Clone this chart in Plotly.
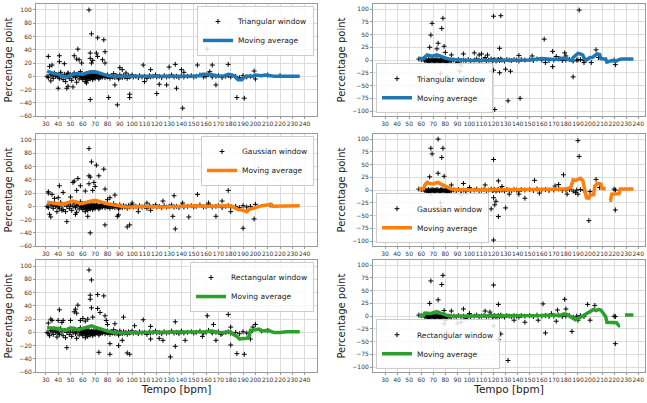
import plotly.graph_objects as go

# ---------------- data ----------------
x_ticks = list(range(30, 250, 10))
y_ticks_left = list(range(-60, 101, 20))
y_ticks_right = [-100, -75, -50, -25, 0, 25, 50, 75, 100]

window_names = ["Triangular window", "Gaussian window", "Rectangular window"]
ma_colors = ["#1f77b4", "#ff7f0e", "#2ca02c"]

# dense near-zero points (left column: all songs)
cluster_left = [(31,0),(32,-2),(34,3),(35,1),(36,-3),(37,5),(38,0),(39,2),(40,-1),(41,-3),(42,6),(43,1),(44,-5),(45,3),(46,-8),(47,0),(48,4),(49,-3),(50,2),(51,-6),(52,0),(53,5),(54,-2),(55,1),(55,-9),(56,3),(57,-4),(58,0),(58,7),(59,-2),(59,2),(60,-5),(60,0),(61,3),(61,-1),(62,-8),(62,1),(62,-3),(63,0),(63,4),(63,-2),(64,-1),(64,2),(64,-6),(65,0),(65,-3),(65,3),(66,1),(66,-1),(66,-4),(67,0),(67,2),(67,-2),(68,1),(68,-1),(68,-5),(69,0),(69,3),(69,-2),(70,1),(70,-1),(70,-3),(71,0),(71,2),(72,-1),(72,1),(73,0),(73,-4),(74,1),(74,-2),(75,0),(75,3),(76,-1),(77,1),(78,-2),(79,0),(80,-1),(80,2),(81,0),(82,-3),(83,1),(84,-1),(85,0),(85,4),(86,-2),(87,1),(88,0),(89,-4),(90,-1),(90,2),(91,0),(92,-2),(93,1),(94,-1),(95,0),(96,-3),(97,1),(98,-1),(99,0),(100,2),(101,-1),(103,0),(105,-2),(106,1),(108,-1),(110,0),(112,-3),(114,1),(115,-1),(117,0),(119,2),(120,-1),(122,0),(124,-2),(126,1),(128,-1),(130,0),(132,2),(134,-1),(136,0),(138,-2),(140,1),(142,-1),(145,0),(148,1),(150,-1),(152,0),(155,2),(158,-1),(160,0),(162,3),(165,-1),(168,0),(170,1),(173,-2),(176,0),(178,1),(180,-1),(184,0),(187,-2),(190,1),(193,-1),(196,0)]

# dense near-zero points (right column)
cluster_right = [(58,2),(60,1),(62,3),(63,-2),(64,0),(65,-1),(65,-3),(66,-2),(66,1),(67,-1),(67,-3),(68,0),(68,-2),(69,-1),(69,1),(70,-2),(70,0),(71,-1),(71,-3),(72,0),(72,-2),(73,-1),(73,1),(74,-2),(74,0),(75,-1),(75,-3),(76,0),(76,-2),(77,-1),(77,1),(78,-2),(78,0),(79,-1),(80,0),(80,-3),(81,-1),(82,-2),(83,0),(84,-1),(85,-2),(87,0),(89,-1),(91,1),(93,-1),(95,0),(97,-2),(99,1),(101,-1),(104,0),(106,2),(108,-1),(110,0),(112,1),(114,-1),(116,0),(118,2),(119,-1),(120,0),(121,1),(122,-2),(123,0),(124,1),(125,-1),(126,2),(127,0),(129,-2),(131,1),(133,0),(135,-1),(137,1),(139,0),(141,-2),(143,1),(146,0),(150,1),(153,-1),(156,2),(160,0),(163,1),(166,-1),(170,0),(174,2),(177,-1),(180,0),(183,1),(186,-2),(189,0),(192,1),(195,-1)]

# outliers per panel
tri_left_pts = [(32,30),(33,15),(34,-7),(35,17),(41,31),(41,22),(40,-18),(45,19),(47,-18),(48,-15),(48,5),(53,31),(52,-16),(56,41),(55,26),(57,25),(59,20),(63,-10),(65,100),(67,64),(66,35),(66,27),(68,24),(67,20),(66,-35),(72,58),(71,35),(72,30),(77,55),(78,37),(76,25),(78,20),(81,-32),(88,-43),(86,-13),(90,13),(98,-27),(98,-32),(92,10),(95,5),(109,17),(110,-8),(115,10),(120,-26),(122,-12),(128,-13),(130,14),(135,18),(136,-18),(140,10),(142,6),(141,-48),(153,17),(161,41),(163,7),(165,17),(168,-13),(178,18),(185,-32),(191,-33),(199,8),(200,-4),(210,2),(220,1)]
gau_left_pts = [(32,22),(32,20),(33,-12),(34,-16),(35,18),(37,12),(41,31),(40,13),(44,21),(39,-8),(43,-6),(47,-23),(50,14),(52,36),(53,38),(56,42),(55,24),(58,31),(54,-12),(62,23),(65,34),(65,87),(67,67),(65,46),(66,44),(64,-15),(66,-40),(71,62),(73,46),(70,30),(69,36),(68,24),(77,56),(78,26),(78,-28),(80,10),(82,13),(86,17),(88,-15),(89,-13),(96,-31),(98,-28),(100,5),(105,-8),(112,5),(115,-6),(125,8),(133,-15),(134,16),(135,-34),(141,5),(146,-16),(153,18),(162,5),(168,-15),(173,8),(178,24),(180,-8),(190,-33),(199,-19),(200,3),(212,2)]
rec_left_pts = [(32,14),(33,-5),(34,20),(35,18),(36,5),(41,34),(40,18),(43,15),(44,18),(39,-7),(47,-23),(50,18),(53,31),(54,35),(56,41),(55,29),(58,18),(60,21),(62,17),(64,20),(65,94),(67,79),(66,50),(67,37),(66,56),(68,23),(72,57),(72,36),(74,30),(77,55),(73,-30),(78,25),(79,18),(80,12),(82,-17),(82,-33),(86,13),(89,-20),(93,23),(92,-12),(96,-31),(98,-33),(102,10),(109,19),(115,9),(115,-10),(122,-9),(125,-12),(131,-37),(135,16),(135,-21),(140,2),(143,-12),(157,-6),(161,25),(166,12),(168,-12),(172,-3),(178,27),(180,-19),(180,8),(185,-32),(191,-33),(198,8),(200,12),(196,-10),(205,2),(210,3)]
tri_right_pts = [(67,25),(68,49),(69,72),(73,22),(74,33),(77,62),(78,82),(79,27),(80,15),(76,-27),(82,-33),(81,-5),(85,10),(90,-5),(93,-10),(95,12),(92,-22),(104,14),(108,10),(110,12),(113,5),(115,10),(118,-22),(120,-20),(120,86),(126,87),(125,23),(125,-25),(121,-97),(130,-18),(132,-80),(134,-22),(141,9),(142,-75),(152,8),(162,41),(163,-5),(169,17),(169,-13),(172,7),(175,3),(179,14),(180,8),(186,-33),(191,98),(190,0),(195,-5),(201,-5),(205,20),(207,5),(221,-9),(220,0)]
gau_right_pts = [(67,26),(68,82),(69,71),(66,-5),(68,-7),(74,100),(74,33),(77,64),(78,82),(79,27),(76,-25),(82,-5),(85,10),(93,-8),(95,13),(97,-7),(100,5),(113,10),(118,-37),(120,60),(120,-15),(121,-29),(122,-22),(120,-98),(124,-52),(124,18),(127,7),(130,-35),(133,-8),(141,-8),(146,-16),(154,19),(158,-6),(171,8),(174,11),(178,30),(181,-8),(190,97),(191,66),(188,-5),(190,-8),(199,-60),(200,-3),(205,21),(208,5),(221,-39),(221,0),(220,2)]
rec_right_pts = [(67,25),(68,69),(74,32),(77,62),(78,80),(79,11),(79,-15),(80,-8),(81,-33),(85,10),(90,-14),(93,-12),(95,14),(97,-5),(100,5),(113,10),(117,8),(120,61),(120,-19),(124,-46),(124,23),(126,-35),(132,-87),(137,-8),(146,-12),(157,-8),(161,24),(163,-33),(168,5),(173,12),(172,-10),(179,33),(180,14),(185,-30),(190,-8),(198,23),(200,-8),(204,21),(221,-54),(220,0),(221,-1)]

# moving averages (None = gap)
tri_left_ma = [(31,8),(35,5),(40,3),(45,0),(47,-2),(50,2),(55,4),(60,3),(63,5),(66,7),(70,7),(73,5),(78,2),(80,1),(85,0),(90,0),(95,-1),(100,0),(120,0),(150,0),(155,1),(157,3),(163,3),(165,2),(170,0),(175,1),(178,3),(181,2),(183,0),(186,-5),(189,-5),(190,-3),(192,0),(198,0),(200,2),(205,1),(208,2),(212,1),(215,0),(236,0)]
gau_left_ma = [(31,6),(35,5),(40,4),(44,3),(48,6),(52,8),(56,6),(58,4),(61,5),(64,7),(67,8),(70,9),(73,7),(76,6),(80,4),(85,2),(90,0),(95,-1),(100,-1),(105,0),(125,-1),(145,0),(150,1),(160,0),(170,1),(180,1),(183,-2),(186,-5),(190,-6),(193,-8),(195,-5),(198,-4),(200,-2),(205,1),(210,2),(213,3),(214,0),(220,0),(225,1),(236,1)]
rec_left_ma = [(31,7),(35,7),(40,6),(43,4),(46,3),(48,5),(50,7),(53,6),(56,4),(58,5),(61,7),(64,9),(67,10),(70,8),(73,6),(76,4),(80,2),(85,0),(90,-1),(95,-1),(100,0),(150,0),(160,1),(165,2),(170,0),(175,0),(180,1),(182,-3),(185,-6),(187,-10),(190,-9),(193,-9),(195,-6),(196,3),(200,4),(203,5),(205,2),(208,2),(211,3),(213,1),(215,0),(220,0),(225,1),(236,1)]
tri_right_ma = [(58,3),(62,3),(63,6),(65,10),(68,8),(70,8),(73,10),(75,8),(78,6),(80,4),(83,2),(85,1),(90,0),(95,0),(100,-1),(150,0),(155,1),(160,3),(165,2),(170,1),(175,2),(178,4),(180,3),(182,1),(185,-1),(186,5),(188,10),(190,13),(192,12),(194,10),(195,4),(197,0),(200,5),(202,5),(204,9),(206,12),(208,11),(209,3),(211,2),(213,2),(214,-4),(216,-3),(218,-1),(220,-2),(222,-2),(224,1),(226,2),(236,2)]
gau_right_ma = [(58,2),(62,3),(63,10),(65,15),(67,13),(70,12),(72,14),(74,15),(76,12),(78,10),(80,8),(83,4),(85,2),(90,1),(100,0),(150,1),(180,2),(184,5),(186,20),(188,19),(190,22),(192,23),(194,19),(195,5),(197,-15),(199,-16),(200,-10),(203,-9),(204,8),(206,13),(209,12),(210,3),(213,3),(214,None),(216,-20),(217,-20),(218,-8),(224,-7),(225,2),(236,2)]
rec_right_ma = [(58,1),(62,1),(63,6),(66,5),(68,5),(70,7),(73,9),(75,7),(77,5),(80,3),(82,1),(85,0),(150,0),(160,1),(170,2),(175,1),(178,4),(180,4),(183,0),(186,-4),(188,-7),(190,-5),(192,-2),(194,1),(197,6),(199,8),(201,11),(203,13),(205,11),(207,13),(209,12),(211,5),(213,-1),(214,-12),(220,-12),(222,-13),(224,-19),(225,-19),(226,None),(229,2),(236,2)]

panels = [
    (tri_left_pts, cluster_left, tri_left_ma, 0, 0),
    (tri_right_pts, cluster_right, tri_right_ma, 0, 1),
    (gau_left_pts, cluster_left, gau_left_ma, 1, 0),
    (gau_right_pts, cluster_right, gau_right_ma, 1, 1),
    (rec_left_pts, cluster_left, rec_left_ma, 2, 0),
    (rec_right_pts, cluster_right, rec_right_ma, 2, 1),
]

# ---------------- layout geometry ----------------
W, H = 647, 403
col_px = [(36, 317), (373, 645)]
row_px = [(4, 117), (135, 248), (262, 375)]
x_range = [[22, 250], [20, 245.6]]
y_range = [[-60, 109], [-110, 110]]

fig = go.Figure()
layout = dict(
    width=W, height=H, margin=dict(l=0, r=0, t=0, b=0),
    paper_bgcolor="white", plot_bgcolor="white",
    font=dict(family="DejaVu Sans", color="#222"),
)

for i, (pts, clus, ma, w, col) in enumerate(panels):
    row = i // 2
    k = i + 1
    xa = "x" if k == 1 else f"x{k}"
    ya = "y" if k == 1 else f"y{k}"
    leg = "legend" if k == 1 else f"legend{k}"
    allpts = clus + pts
    fig.add_trace(go.Scatter(
        x=[p[0] for p in allpts], y=[p[1] for p in allpts],
        mode="markers", name=window_names[w],
        marker=dict(symbol="cross-thin", size=3.5, color="black",
                    line=dict(color="black", width=1)),
        xaxis=xa, yaxis=ya, legend=leg,
    ))
    fig.add_trace(go.Scatter(
        x=[p[0] for p in ma], y=[p[1] for p in ma],
        mode="lines", name="Moving average",
        line=dict(color=ma_colors[w], width=3.5),
        connectgaps=False,
        xaxis=xa, yaxis=ya, legend=leg,
    ))
    cx0, cx1 = col_px[col]
    ry0, ry1 = row_px[row]
    axis_common = dict(
        showgrid=True, gridcolor="#dcdcdc", gridwidth=1,
        showline=True, mirror=True, linecolor="#9a9a9a", linewidth=1,
        ticks="outside", ticklen=2, tickcolor="#9a9a9a",
        tickfont=dict(size=6, color="#333"), zeroline=False,
        ticklabeloverflow="allow",
    )
    xkey = "xaxis" if k == 1 else f"xaxis{k}"
    ykey = "yaxis" if k == 1 else f"yaxis{k}"
    layout[xkey] = dict(
        axis_common, domain=[cx0 / W, cx1 / W], range=x_range[col],
        tickvals=x_ticks, anchor=ya, tickangle=0,
        title=dict(text="Tempo [bpm]", font=dict(size=10.5, color="#222"), standoff=2) if row == 2 else None,
    )
    layout[ykey] = dict(
        axis_common, domain=[1 - ry1 / H, 1 - ry0 / H], range=y_range[col],
        tickvals=y_ticks_left if col == 0 else y_ticks_right, anchor=xa,
        title=dict(text="Percentage point", font=dict(size=10, color="#222"), standoff=4),
    )
    if col == 0:
        legpos = dict(x=314 / W, y=1 - (ry0 + 2) / H, xanchor="right", yanchor="top")
    else:
        legpos = dict(x=376 / W, y=1 - (ry1 - 3) / H, xanchor="left", yanchor="bottom")
    layout[leg] = dict(
        legpos, bgcolor="rgba(255,255,255,0.85)", bordercolor="#cccccc", borderwidth=1,
        font=dict(size=7.5, color="#222"), tracegroupgap=0, itemwidth=30,
    )

fig.update_layout(**layout)
fig.write_html(
    "out.html",
    config={"displayModeBar": False},
    post_script="document.body.style.margin='0px';document.body.style.overflow='hidden';",
)
